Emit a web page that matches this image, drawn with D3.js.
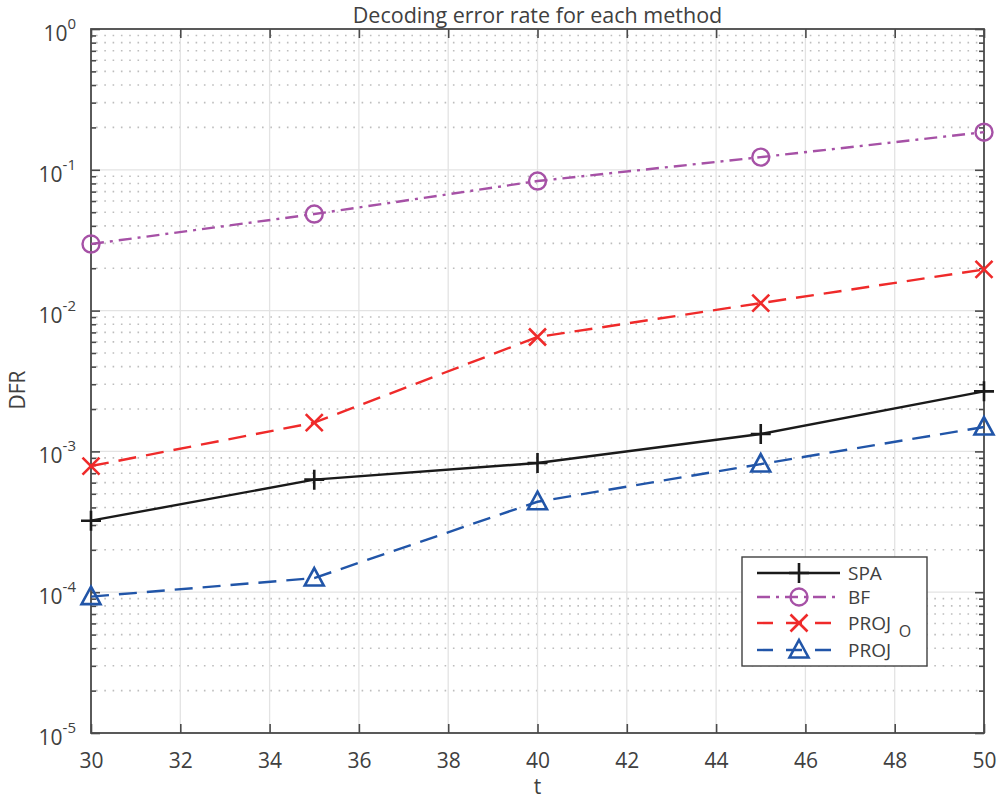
<!DOCTYPE html>
<html><head><meta charset="utf-8">
<script src="https://cdn.jsdelivr.net/npm/d3@7"></script>
<style>
html,body{margin:0;padding:0;background:#fff;}
text{font-family:"Open Sans","Noto Sans",sans-serif;fill:#404040;}
</style></head>
<body><svg id="c" width="1000" height="799"></svg>
<script>
const tValues = [30, 35, 40, 45, 50];
const spa   = [3.22e-4, 6.3e-4, 8.27e-4, 1.33e-3, 2.67e-3];
const bf    = [0.0297, 0.0485, 0.0832, 0.123, 0.185];
const projO = [7.87e-4, 1.6e-3, 6.49e-3, 0.0113, 0.0196];
const proj  = [9.3e-5, 1.26e-4, 4.39e-4, 8.13e-4, 1.49e-3];
const xTicks = [30, 32, 34, 36, 38, 40, 42, 44, 46, 48, 50];
const yExponents = [0, -1, -2, -3, -4, -5];
const seriesNames = ["SPA", "BF", "PROJ", "PROJ"];
const title = "Decoding error rate for each method";
const xLabel = "t";
const yLabel = "DFR";

const svg = d3.select("#c");
const L = 91, R = 984, T = 29, B = 733;
const x = d3.scaleLinear().domain([30, 50]).range([L, R]);
const y = d3.scaleLog().domain([1e-5, 1]).range([B, T]);
const axisColor = "#4a4a4a";

// minor grid (dotted)
const minors = [];
for (let e = -5; e < 0; e++) for (let m = 2; m <= 9; m++) minors.push(m * Math.pow(10, e));
svg.append("g").selectAll("line").data(minors).join("line")
  .attr("x1", L).attr("x2", R).attr("y1", d => y(d)).attr("y2", d => y(d))
  .attr("stroke", "#bdbdbd").attr("stroke-width", 1.6)
  .attr("stroke-dasharray", "1.6,6.7").attr("stroke-dashoffset", -5);

// major grid
svg.append("g").selectAll("line").data(xTicks).join("line")
  .attr("x1", d => x(d)).attr("x2", d => x(d)).attr("y1", T).attr("y2", B)
  .attr("stroke", "#e3e3e3").attr("stroke-width", 1.3);
svg.append("g").selectAll("line").data(yExponents).join("line")
  .attr("x1", L).attr("x2", R).attr("y1", d => y(Math.pow(10, d))).attr("y2", d => y(Math.pow(10, d)))
  .attr("stroke", "#e3e3e3").attr("stroke-width", 1.3);

// axes with inward ticks
const gx = svg.append("g").attr("transform", `translate(0,${B})`)
  .call(d3.axisBottom(x).tickValues(xTicks).tickSize(-9).tickPadding(20).tickFormat(d3.format("d")));
const gxt = svg.append("g").attr("transform", `translate(0,${T})`)
  .call(d3.axisTop(x).tickValues(xTicks).tickSize(-9).tickFormat(""));
const yMaj = yExponents.map(e => Math.pow(10, e));
const gy = svg.append("g").attr("transform", `translate(${L},0)`)
  .call(d3.axisLeft(y).tickValues(yMaj).tickSize(-9).tickFormat(""));
const gyr = svg.append("g").attr("transform", `translate(${R},0)`)
  .call(d3.axisRight(y).tickValues(yMaj).tickSize(-9).tickFormat(""));
const gym = svg.append("g").attr("transform", `translate(${L},0)`)
  .call(d3.axisLeft(y).tickValues(minors).tickSize(-5).tickFormat(""));
const gymr = svg.append("g").attr("transform", `translate(${R},0)`)
  .call(d3.axisRight(y).tickValues(minors).tickSize(-5).tickFormat(""));
[gx, gxt, gy, gyr, gym, gymr].forEach(g => {
  g.select(".domain").remove();
  g.selectAll("line").attr("stroke", axisColor).attr("stroke-width", 1.6);
});
gx.selectAll("text").attr("font-size", 21).attr("fill", "#404040")
  .attr("font-family", '"Open Sans","Noto Sans",sans-serif');

// box
svg.append("rect").attr("x", L).attr("y", T).attr("width", R - L).attr("height", B - T)
  .attr("fill", "none").attr("stroke", axisColor).attr("stroke-width", 1.8);

// y tick labels 10^e
const yl = svg.append("g").selectAll("text").data(yExponents).join("text")
  .attr("x", 76).attr("y", d => y(Math.pow(10, d)) + 12)
  .attr("text-anchor", "end").attr("font-size", 21);
yl.append("tspan").text("10");
yl.append("tspan").attr("dy", -12).attr("font-size", 15).text(d => String(d));

// title and axis labels
svg.append("text").attr("x", (L + R) / 2).attr("y", 23).attr("text-anchor", "middle")
  .attr("font-size", 21.5).attr("fill", "#222").text(title);
svg.append("text").attr("x", (L + R) / 2).attr("y", 794).attr("text-anchor", "middle")
  .attr("font-size", 21).text(xLabel);
svg.append("text").attr("transform", "translate(25,390) rotate(-90)").attr("text-anchor", "middle")
  .attr("font-size", 21).text(yLabel);

// series
const series = [
  {name: "SPA", vals: spa, color: "#1a1a1a", dash: null, marker: "plus"},
  {name: "BF", vals: bf, color: "#a651a6", dash: "13,6,3,6", marker: "circle"},
  {name: "PROJ_O", vals: projO, color: "#ef2a2a", dash: "18,10", marker: "x"},
  {name: "PROJ", vals: proj, color: "#2155a8", dash: "18,10", marker: "tri"}
];
const line = d3.line().x(d => x(d[0])).y(d => y(d[1]));

function drawMarker(g, type, cx, cy, color) {
  if (type === "plus") {
    g.append("path").attr("d", `M${cx - 10},${cy}H${cx + 10}M${cx},${cy - 10}V${cy + 10}`)
      .attr("stroke", color).attr("stroke-width", 2.6).attr("fill", "none");
  } else if (type === "circle") {
    g.append("circle").attr("cx", cx).attr("cy", cy).attr("r", 8.5)
      .attr("stroke", color).attr("stroke-width", 2.4).attr("fill", "none");
  } else if (type === "x") {
    g.append("path").attr("d", `M${cx - 8.5},${cy - 8.5}L${cx + 8.5},${cy + 8.5}M${cx - 8.5},${cy + 8.5}L${cx + 8.5},${cy - 8.5}`)
      .attr("stroke", color).attr("stroke-width", 2.6).attr("fill", "none");
  } else if (type === "tri") {
    g.append("path").attr("d", `M${cx},${cy - 10}L${cx + 9.5},${cy + 7.5}L${cx - 9.5},${cy + 7.5}Z`)
      .attr("stroke", color).attr("stroke-width", 2.6).attr("fill", "none");
  }
}

series.forEach(s => {
  const data = tValues.map((t, i) => [t, s.vals[i]]);
  const g = svg.append("g");
  g.append("path").attr("d", line(data)).attr("fill", "none")
    .attr("stroke", s.color).attr("stroke-width", 2.4)
    .attr("stroke-dasharray", s.dash);
  data.forEach(d => drawMarker(g, s.marker, x(d[0]), y(d[1]), s.color));
});

// legend
const lg = svg.append("g");
lg.append("rect").attr("x", 742).attr("y", 557).attr("width", 185).attr("height", 109)
  .attr("fill", "#fff").attr("stroke", "#404040").attr("stroke-width", 1.4);
const rowsY = [573, 597, 623, 650];
series.forEach((s, i) => {
  const yy = rowsY[i];
  lg.append("line").attr("x1", 757).attr("x2", 840).attr("y1", yy).attr("y2", yy)
    .attr("stroke", s.color).attr("stroke-width", 2.4)
    .attr("stroke-dasharray", s.dash ? (s.marker === "circle" ? "13,6,3,6" : "16,13") : null);
  drawMarker(lg, s.marker, 799, yy, s.color);
  const tx = lg.append("text").attr("x", 848).attr("y", yy + 7).attr("font-size", 19).attr("fill", "#222");
  tx.append("tspan").text(seriesNames[i]);
  if (s.name === "PROJ_O") {
    lg.append("text").attr("x", 905).attr("y", yy + 14).attr("font-size", 16).attr("fill", "#222")
      .attr("text-anchor", "middle").text("O");
  }
});
</script></body></html>
